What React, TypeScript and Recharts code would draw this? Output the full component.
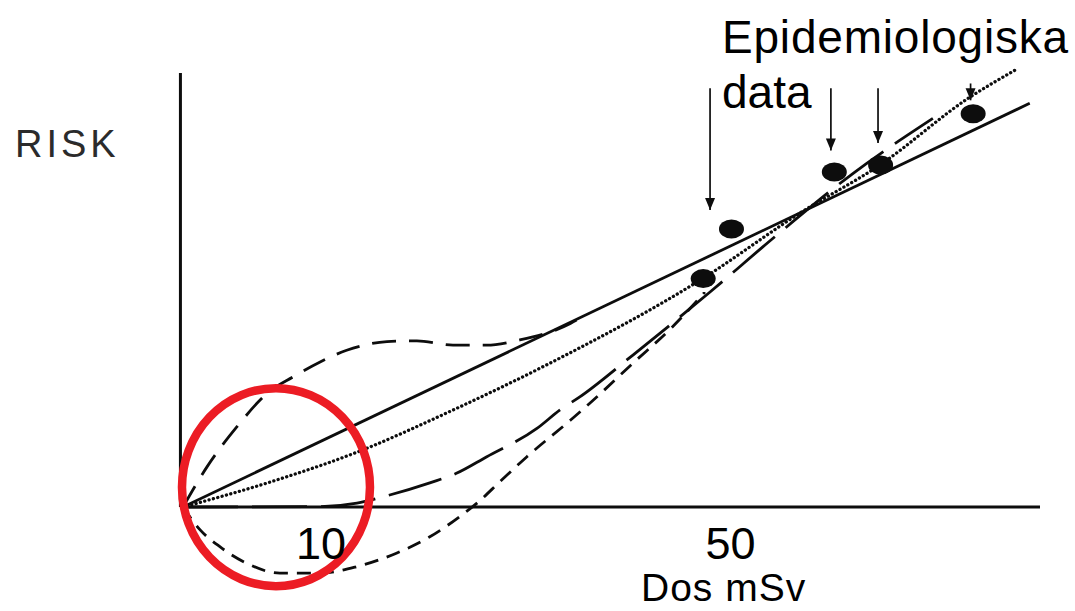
import React from 'react';
import {
  ComposedChart,
  Line,
  Scatter,
  XAxis,
  YAxis,
  ReferenceLine,
  ReferenceDot,
} from 'recharts';

// Sketch units: x 0..100 along the dose axis, y 0..100 up the risk axis
const solidLine = [
  { x: 0, y: 0 },
  { x: 98.8, y: 93.5 },
];

// fine dotted curve (linear-quadratic)
const dottedCurve = [
  { x: 0, y: 0 },
  { x: 10.2, y: 5.8 },
  { x: 20.3, y: 12.7 },
  { x: 31, y: 22 },
  { x: 42.8, y: 33.3 },
  { x: 60.7, y: 53 },
  { x: 72, y: 68.1 },
  { x: 81.3, y: 79.2 },
  { x: 91.8, y: 94.9 },
  { x: 97.1, y: 101.2 },
];

// dashed hump (supralinear)
const humpCurve = [
  { x: 0, y: 0 },
  { x: 2.8, y: 9.3 },
  { x: 6.3, y: 18.6 },
  { x: 9.8, y: 26.3 },
  { x: 12.9, y: 30.2 },
  { x: 16, y: 33.6 },
  { x: 19.1, y: 36.3 },
  { x: 23.8, y: 38.3 },
  { x: 27.3, y: 38.5 },
  { x: 31.5, y: 37.5 },
  { x: 35.4, y: 37.5 },
  { x: 39.3, y: 38.7 },
  { x: 45.2, y: 42.5 },
  { x: 46.7, y: 44.2 },
];

// long dashes (threshold)
const longDashCurve = [
  { x: 0, y: 0 },
  { x: 16, y: 0.1 },
  { x: 20.3, y: 0.9 },
  { x: 23.4, y: 2.4 },
  { x: 28.8, y: 5.6 },
  { x: 31.9, y: 7.8 },
  { x: 35.4, y: 11.6 },
  { x: 41.3, y: 18.2 },
  { x: 44, y: 22.5 },
  { x: 46.3, y: 25.5 },
  { x: 52.5, y: 35.2 },
  { x: 61.5, y: 49.8 },
  { x: 69.3, y: 63 },
  { x: 78.2, y: 77.3 },
  { x: 87.5, y: 90 },
];

// short dashes (hormesis, dips below zero)
const shortDashCurve = [
  { x: 0, y: 0 },
  { x: 2, y: -5.3 },
  { x: 4.3, y: -9.2 },
  { x: 7.4, y: -13 },
  { x: 11.3, y: -15.3 },
  { x: 16, y: -15.3 },
  { x: 20.3, y: -13.8 },
  { x: 24.9, y: -10.7 },
  { x: 28.8, y: -6.9 },
  { x: 32.3, y: -2.2 },
  { x: 34.3, y: 0.9 },
  { x: 37, y: 5.9 },
  { x: 40.1, y: 11.6 },
  { x: 45.2, y: 20.1 },
  { x: 47.5, y: 24.1 },
  { x: 52.5, y: 33.3 },
  { x: 57.1, y: 41.7 },
  { x: 60.9, y: 49.8 },
];

const epiPoints = [
  { x: 60.7, y: 52.9 },
  { x: 64, y: 64.4 },
  { x: 76, y: 77.6 },
  { x: 81.4, y: 79.2 },
  { x: 92.2, y: 91.1 },
];

const arrowX = [61.5, 75.6, 81.1, 91.9];
const arrowTop = [97, 97, 97, 98.1];
const arrowTip = [68.8, 82.6, 84.3, 94.2];

const xTickValues = [16.1, 63.9];
const xTickLabels = ['10', '50'];

const lowDoseCenter = { x: 10.85, y: 4.6 };

const INK = '#0d0d0d';
const FONT = '"Liberation Sans", Arial, sans-serif';

const arrowHeads = arrowX.map((x, i) => ({ x, y: arrowTip[i] }));

function EpiDot(props: any) {
  return <ellipse cx={props.cx} cy={props.cy} rx={12.5} ry={9.5} fill={INK} />;
}

function ArrowHead(props: any) {
  const { cx, cy } = props;
  return <path d={`M${cx - 5},${cy - 12}L${cx + 5},${cy - 12}L${cx},${cy}Z`} fill={INK} />;
}

const caption: React.CSSProperties = {
  position: 'absolute',
  fontFamily: FONT,
  fontSize: 46,
  lineHeight: 1,
  color: '#000',
  whiteSpace: 'nowrap',
};

export default function App() {
  return (
    <div
      style={{
        position: 'absolute',
        left: 0,
        top: 0,
        width: 1075,
        height: 611,
        overflow: 'hidden',
        background: '#fff',
      }}
    >
      <ComposedChart
        width={1075}
        height={611}
        margin={{ top: 58, right: 35, bottom: 9, left: 183 }}
      >
        <XAxis type="number" dataKey="x" domain={[0, 100]} hide allowDataOverflow />
        <YAxis type="number" dataKey="y" domain={[-22, 104]} hide allowDataOverflow />

        {/* axes */}
        <ReferenceLine
          segment={[{ x: -0.3, y: 0 }, { x: -0.3, y: 100.5 }]}
          ifOverflow="visible"
          stroke={INK}
          strokeWidth={3}
        />
        <ReferenceLine
          segment={[{ x: -0.3, y: 0 }, { x: 100, y: 0 }]}
          ifOverflow="visible"
          stroke={INK}
          strokeWidth={3}
        />

        {arrowX.map((x, i) => (
          <ReferenceLine
            key={`arrow-${i}`}
            segment={[{ x, y: arrowTop[i] }, { x, y: arrowTip[i] }]}
            stroke={INK}
            strokeWidth={1.7}
          />
        ))}

        <Line
          data={solidLine}
          dataKey="y"
          type="linear"
          stroke={INK}
          strokeWidth={2.8}
          dot={false}
          activeDot={false}
          isAnimationActive={false}
        />
        <Line
          data={dottedCurve}
          dataKey="y"
          type="monotone"
          stroke={INK}
          strokeWidth={3.3}
          strokeDasharray="0.1 4.4"
          strokeLinecap="round"
          dot={false}
          activeDot={false}
          isAnimationActive={false}
        />
        <Line
          data={humpCurve}
          dataKey="y"
          type="monotone"
          stroke={INK}
          strokeWidth={2.8}
          strokeDasharray="24 13"
          dot={false}
          activeDot={false}
          isAnimationActive={false}
        />
        <Line
          data={longDashCurve}
          dataKey="y"
          type="monotone"
          stroke={INK}
          strokeWidth={2.8}
          strokeDasharray="55 14"
          dot={false}
          activeDot={false}
          isAnimationActive={false}
        />
        <Line
          data={shortDashCurve}
          dataKey="y"
          type="monotone"
          stroke={INK}
          strokeWidth={2.8}
          strokeDasharray="14 9"
          dot={false}
          activeDot={false}
          isAnimationActive={false}
        />

        <Scatter data={epiPoints} dataKey="y" shape={EpiDot} isAnimationActive={false} />
        <Scatter data={arrowHeads} dataKey="y" shape={ArrowHead} isAnimationActive={false} />

        <ReferenceDot
          x={lowDoseCenter.x}
          y={lowDoseCenter.y}
          ifOverflow="visible"
          shape={(p: any) => (
            <ellipse cx={p.cx} cy={p.cy} rx={94} ry={99} fill="none" stroke="#ec1c24" strokeWidth={8.5} />
          )}
        />

        {xTickValues.map((v, i) => (
          <ReferenceDot
            key={`tick-${i}`}
            x={v}
            y={0}
            ifOverflow="visible"
            shape={(p: any) => (
              <text
                x={p.cx}
                y={p.cy + 52}
                textAnchor="middle"
                fontSize={45}
                fontFamily={FONT}
                fill="#000"
              >
                {xTickLabels[i]}
              </text>
            )}
          />
        ))}
      </ComposedChart>

      <div
        style={{
          ...caption,
          left: 15,
          top: 125,
          fontSize: 38,
          letterSpacing: 4,
          color: '#2b2b2b',
        }}
      >
        RISK
      </div>
      <div style={{ ...caption, left: 722, top: 14, letterSpacing: 0.8 }}>Epidemiologiska</div>
      <div style={{ ...caption, left: 722, top: 69 }}>data</div>
      <div style={{ ...caption, left: 641, top: 568, fontSize: 39, letterSpacing: 1 }}>Dos mSv</div>
    </div>
  );
}
